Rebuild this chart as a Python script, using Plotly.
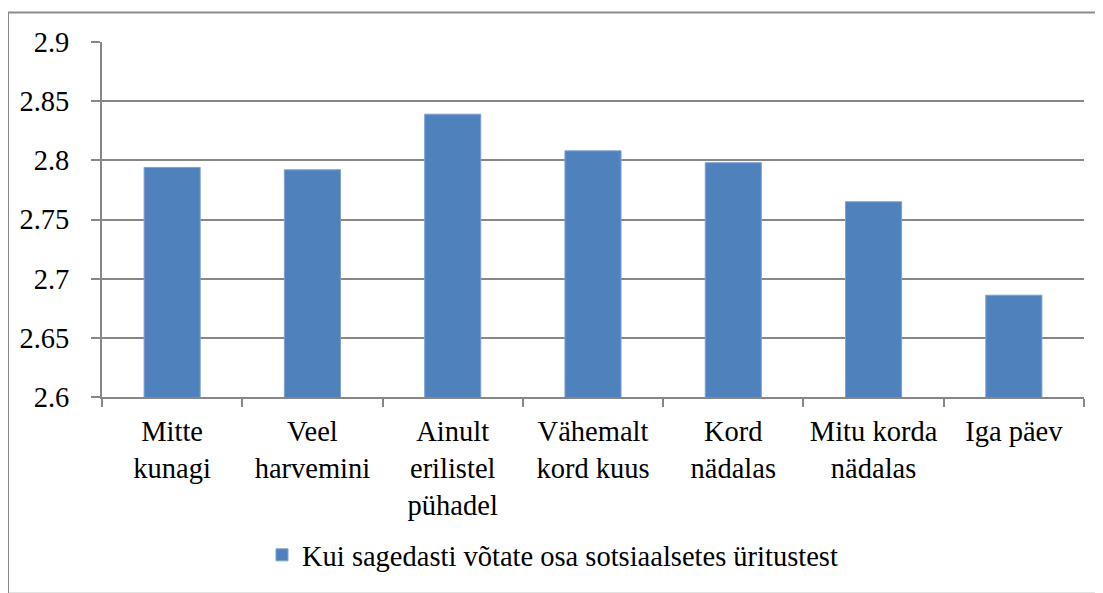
import plotly.graph_objects as go

categories = ["Mitte<br>kunagi", "Veel<br>harvemini", "Ainult<br>erilistel<br>pühadel",
              "Vähemalt<br>kord kuus", "Kord<br>nädalas", "Mitu korda<br>nädalas", "Iga päev"]
values = [2.794, 2.792, 2.839, 2.808, 2.798, 2.765, 2.686]
series_name = "Kui sagedasti võtate osa sotsiaalsetes üritustest"
y_ticks = [2.6, 2.65, 2.7, 2.75, 2.8, 2.85, 2.9]
y_ticktext = ["2.6", "2.65", "2.7", "2.75", "2.8", "2.85", "2.9"]

# page body adds an 8px margin, so work in shifted pixel coords
OFF = 8
W, H = 1103 - OFF, 593 - OFF
L, R, T, B = 102 - OFF, 1084 - OFF, 42 - OFF, 403 - OFF
pw, ph = R - L, B - T

grey = "#878787"
fnt = dict(family="Liberation Serif, Times New Roman, serif", size=28.5, color="#000000")

fig = go.Figure()
fig.add_trace(go.Bar(
    x=categories, y=values, name=series_name,
    marker=dict(color="#4F81BD", line=dict(color="#7EA2D2", width=1)),
))

# outer chart border (cropped on right and bottom)
fig.add_shape(type="rect", xref="paper", yref="paper",
              x0=(8 - OFF - L) / pw, x1=(W + 10 - L) / pw,
              y0=(B - (H + 10)) / ph, y1=1 + (T - (12 - OFF)) / ph,
              line=dict(color="#8a8a8a", width=2), layer="below")

fig.update_layout(
    width=W, height=H,
    margin=dict(l=L, r=W - R, t=T, b=H - B, pad=0),
    paper_bgcolor="white", plot_bgcolor="white",
    font=fnt,
    bargap=0.6,
    showlegend=True,
    legend=dict(orientation="h", x=(262 - OFF - L) / pw, xanchor="left",
                y=(B - (564 - OFF)) / ph, yanchor="middle",
                font=fnt, itemwidth=30, bgcolor="rgba(0,0,0,0)"),
)
fig.update_xaxes(
    type="category", showgrid=False, showline=True, linecolor=grey, linewidth=2,
    ticks="outside", tickson="boundaries", ticklen=8, tickcolor=grey, tickwidth=2,
    tickfont=fnt, tickangle=0, ticklabelstandoff=8,
)
fig.update_yaxes(
    range=[2.6, 2.9], tickvals=y_ticks, ticktext=y_ticktext,
    showgrid=True, gridcolor=grey, gridwidth=2,
    showline=True, linecolor=grey, linewidth=2,
    ticks="outside", ticklen=9, tickcolor=grey, tickwidth=2,
    tickfont=fnt, ticklabelstandoff=16, zeroline=False,
)

fig.write_html("out.html")
